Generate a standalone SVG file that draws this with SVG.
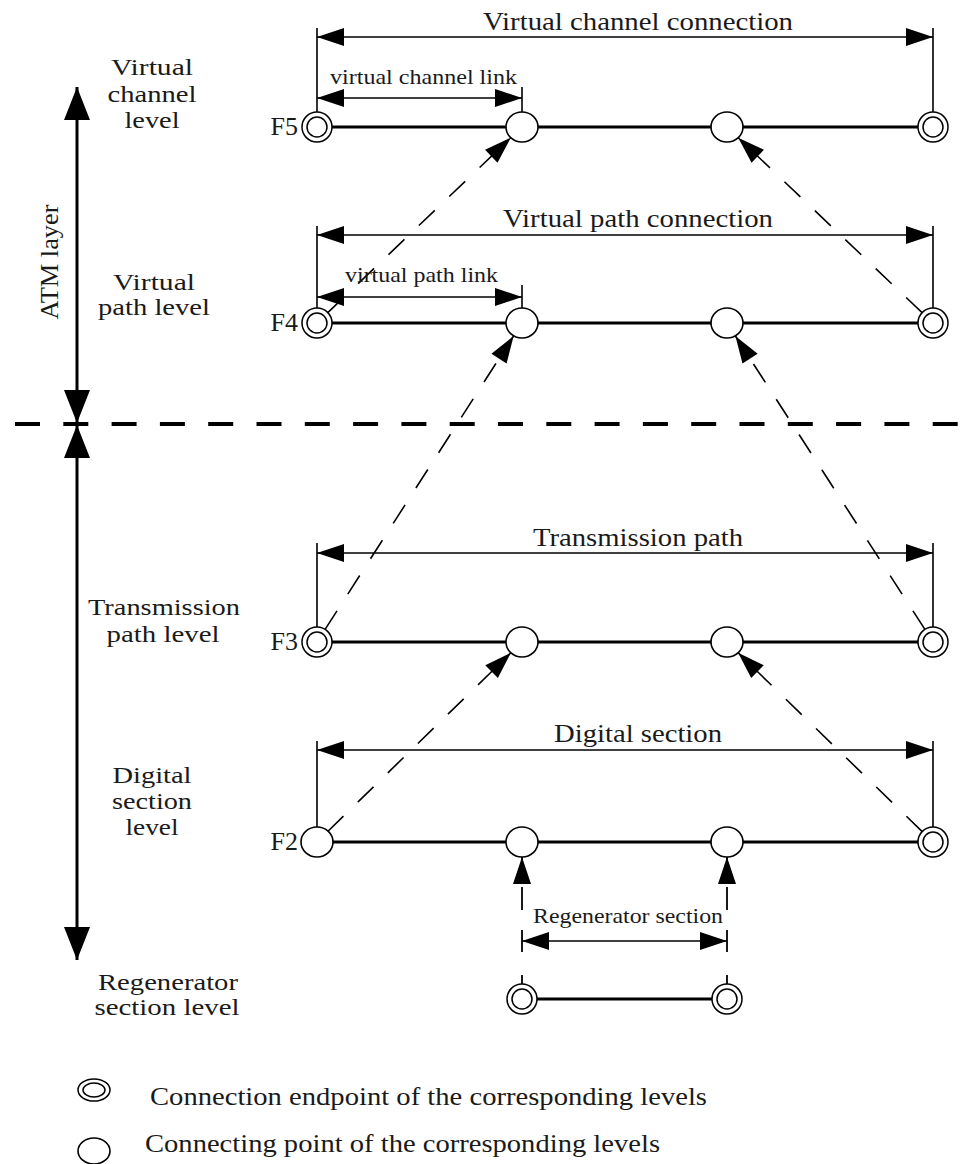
<svg xmlns="http://www.w3.org/2000/svg" width="975" height="1164" viewBox="0 0 975 1164">
  <style>
    .txt { font-family: "Liberation Serif", "Times New Roman", serif; fill: #1a1a1a; }
    .big { font-size: 26px; }
    .lvl { font-size: 24px; }
    .small { font-size: 22px; }
    .mid { text-anchor: middle; }
    .end { text-anchor: end; }
    .main { stroke: #000; stroke-width: 3; fill: none; }
    .dim { stroke: #000; stroke-width: 1.6; fill: none; }
    .dimarrow { stroke: #000; stroke-width: 1.6; fill: none; marker-start: url(#arrow); marker-end: url(#arrow); }
    .dash { stroke: #000; stroke-width: 1.6; fill: none; stroke-dasharray: 22 20; marker-end: url(#arrow); }
    .vdash { stroke: #000; stroke-width: 1.8; fill: none; marker-end: url(#arrow); }
    .axis { stroke: #000; stroke-width: 3; fill: none; marker-start: url(#axis-arrow); marker-end: url(#axis-arrow); }
    .sep { stroke: #000; stroke-width: 4; fill: none; stroke-dasharray: 25 23.3; }
    .ring { stroke: #000; stroke-width: 1.5; fill: #fff; }
    .cp { stroke: #000; stroke-width: 1.6; fill: #fff; }
  </style>
  <defs>
    <marker id="arrow" markerUnits="userSpaceOnUse" markerWidth="28" markerHeight="20" refX="27" refY="9" orient="auto-start-reverse" overflow="visible">
      <path d="M0,0 L27,9 L0,18 Z" fill="#000"/>
    </marker>
    <marker id="axis-arrow" markerUnits="userSpaceOnUse" markerWidth="34" markerHeight="27" refX="33" refY="13" orient="auto-start-reverse" overflow="visible">
      <path d="M0,0 L33,13 L0,26 Z" fill="#000"/>
    </marker>
    <!-- connection endpoint: double ring -->
    <g id="endpoint">
      <circle class="ring" r="15"/>
      <circle class="ring" r="10"/>
    </g>
    <!-- connecting point: single ellipse -->
    <ellipse id="cpoint" class="cp" rx="16" ry="15"/>
  </defs>

  <!-- layer axis on the left -->
  <g id="layer-axis">
    <line class="axis" x1="77" y1="87" x2="77" y2="423"/>
    <line class="axis" x1="77" y1="425" x2="77" y2="960"/>
    <line class="sep" x1="15" y1="424" x2="962" y2="424"/>
    <text class="txt big mid" transform="translate(58,262) rotate(-90)" textLength="115" lengthAdjust="spacingAndGlyphs">ATM layer</text>
  </g>

  <!-- level names -->
  <g id="level-labels" class="txt lvl mid">
    <text x="152" y="75" textLength="82" lengthAdjust="spacingAndGlyphs">Virtual</text>
    <text x="152" y="102" textLength="89" lengthAdjust="spacingAndGlyphs">channel</text>
    <text x="152" y="128" textLength="55" lengthAdjust="spacingAndGlyphs">level</text>
    <text x="154" y="290" textLength="82" lengthAdjust="spacingAndGlyphs">Virtual</text>
    <text x="154" y="315" textLength="112" lengthAdjust="spacingAndGlyphs">path level</text>
    <text x="164" y="615" textLength="152" lengthAdjust="spacingAndGlyphs">Transmission</text>
    <text x="163" y="642" textLength="113" lengthAdjust="spacingAndGlyphs">path level</text>
    <text x="152" y="783" textLength="79" lengthAdjust="spacingAndGlyphs">Digital</text>
    <text x="152" y="809" textLength="80" lengthAdjust="spacingAndGlyphs">section</text>
    <text x="152" y="835" textLength="53" lengthAdjust="spacingAndGlyphs">level</text>
    <text x="168" y="990" textLength="140" lengthAdjust="spacingAndGlyphs">Regenerator</text>
    <text x="167" y="1015" textLength="145" lengthAdjust="spacingAndGlyphs">section level</text>
  </g>

  <g id="flow-labels" class="txt big end">
    <text x="298" y="135">F5</text>
    <text x="298" y="331">F4</text>
    <text x="298" y="650">F3</text>
    <text x="298" y="850">F2</text>
  </g>

  <!-- connectors -->
  <g id="connectors">
    <!-- level lines -->
    <line class="main" x1="317" y1="127" x2="933" y2="127"/>
    <line class="main" x1="317" y1="323" x2="933" y2="323"/>
    <line class="main" x1="317" y1="642" x2="933" y2="642"/>
    <line class="main" x1="317" y1="842" x2="933" y2="842"/>
    <line class="main" x1="522" y1="999" x2="727" y2="999"/>

    <!-- extension lines -->
    <path class="dim" d="M317,28 V112 M933,28 V112 M522,87 V112
                         M317,226 V308 M933,226 V308 M522,285 V308
                         M317,543 V627 M933,543 V627
                         M317,741 V827 M933,741 V827"/>

    <!-- dimension arrows -->
    <line class="dimarrow" x1="317" y1="37" x2="933" y2="37"/>
    <line class="dimarrow" x1="317" y1="98" x2="522" y2="98"/>
    <line class="dimarrow" x1="317" y1="235" x2="933" y2="235"/>
    <line class="dimarrow" x1="317" y1="297" x2="522" y2="297"/>
    <line class="dimarrow" x1="317" y1="553" x2="933" y2="553"/>
    <line class="dimarrow" x1="317" y1="750" x2="933" y2="750"/>
    <line class="dimarrow" x1="522" y1="941" x2="727" y2="941"/>

    <!-- level-to-level mappings -->
    <line class="dash" x1="327.8" y1="312.6" x2="510.8" y2="137.7"/>
    <line class="dash" x1="922.1" y1="312.7" x2="738.2" y2="137.7"/>
    <line class="dash" x1="325.1" y1="629.4" x2="513.6" y2="336.0"/>
    <line class="dash" x1="924.9" y1="629.4" x2="735.4" y2="336.0"/>
    <line class="dash" x1="327.7" y1="831.5" x2="510.9" y2="652.8"/>
    <line class="dash" x1="922.2" y1="831.6" x2="738.1" y2="652.8"/>
    <path class="vdash" d="M522,985 V975 M522,952 V930 M522,910 V887 M522,882 V857"/>
    <path class="vdash" d="M727,985 V975 M727,952 V930 M727,910 V887 M727,882 V857"/>
  </g>

  <!-- dimension texts -->
  <g id="span-labels" class="txt">
    <text class="big" x="483" y="30" textLength="310" lengthAdjust="spacingAndGlyphs">Virtual channel connection</text>
    <text class="small" x="330" y="84" textLength="187" lengthAdjust="spacingAndGlyphs">virtual channel link</text>
    <text class="big" x="503" y="227" textLength="270" lengthAdjust="spacingAndGlyphs">Virtual path connection</text>
    <text class="small" x="345" y="282" textLength="153" lengthAdjust="spacingAndGlyphs">virtual path link</text>
    <text class="big" x="533" y="546" textLength="210" lengthAdjust="spacingAndGlyphs">Transmission path</text>
    <text class="big" x="554" y="742" textLength="168" lengthAdjust="spacingAndGlyphs">Digital section</text>
    <text class="small" x="533" y="923" textLength="190" lengthAdjust="spacingAndGlyphs">Regenerator section</text>
  </g>

  <!-- nodes: virtual channel level (F5) -->
  <g id="f5-end-a"><use href="#endpoint" x="317" y="127"/></g>
  <g id="f5-point-a"><use href="#cpoint" x="522" y="127"/></g>
  <g id="f5-point-b"><use href="#cpoint" x="727" y="127"/></g>
  <g id="f5-end-b"><use href="#endpoint" x="933" y="127"/></g>

  <!-- nodes: virtual path level (F4) -->
  <g id="f4-end-a"><use href="#endpoint" x="317" y="323"/></g>
  <g id="f4-point-a"><use href="#cpoint" x="522" y="323"/></g>
  <g id="f4-point-b"><use href="#cpoint" x="727" y="323"/></g>
  <g id="f4-end-b"><use href="#endpoint" x="933" y="323"/></g>

  <!-- nodes: transmission path level (F3) -->
  <g id="f3-end-a"><use href="#endpoint" x="317" y="642"/></g>
  <g id="f3-point-a"><use href="#cpoint" x="522" y="642"/></g>
  <g id="f3-point-b"><use href="#cpoint" x="727" y="642"/></g>
  <g id="f3-end-b"><use href="#endpoint" x="933" y="642"/></g>

  <!-- nodes: digital section level (F2) -->
  <g id="f2-point-start"><use href="#cpoint" x="317" y="842"/></g>
  <g id="f2-point-a"><use href="#cpoint" x="522" y="842"/></g>
  <g id="f2-point-b"><use href="#cpoint" x="727" y="842"/></g>
  <g id="f2-end-b"><use href="#endpoint" x="933" y="842"/></g>

  <!-- nodes: regenerator section level -->
  <g id="rs-end-a"><use href="#endpoint" x="522" y="999"/></g>
  <g id="rs-end-b"><use href="#endpoint" x="727" y="999"/></g>

  <!-- legend -->
  <g id="legend">
    <g id="legend-endpoint">
      <ellipse class="ring" cx="94" cy="1090" rx="16" ry="11"/>
      <ellipse class="ring" cx="94" cy="1090" rx="11" ry="7"/>
      <text class="txt big" x="150" y="1105" textLength="557" lengthAdjust="spacingAndGlyphs">Connection endpoint of the corresponding levels</text>
    </g>
    <g id="legend-point">
      <ellipse class="cp" cx="94" cy="1151" rx="16" ry="13"/>
      <text class="txt big" x="145" y="1152" textLength="515" lengthAdjust="spacingAndGlyphs">Connecting point of the corresponding levels</text>
    </g>
  </g>
</svg>
